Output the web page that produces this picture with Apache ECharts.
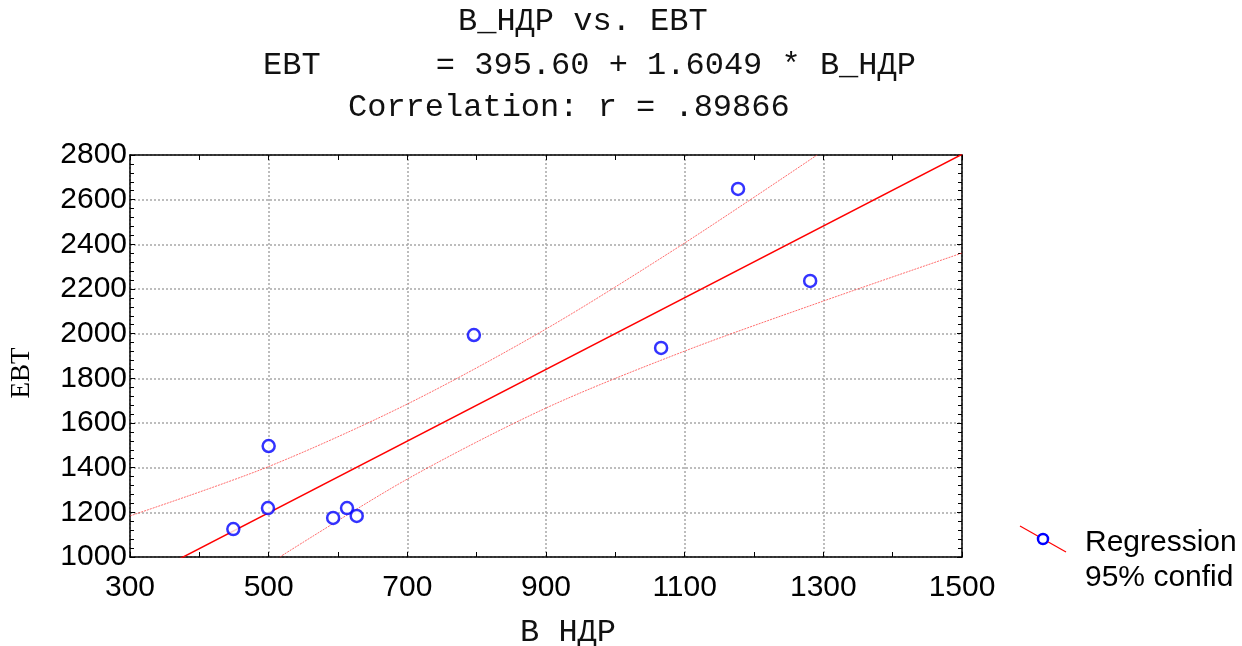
<!DOCTYPE html>
<html><head><meta charset="utf-8">
<script src="https://cdn.jsdelivr.net/npm/echarts@6/dist/echarts.min.js"></script>
<style>html,body{margin:0;padding:0;background:#fff}#c{width:1242px;height:646px}</style>
</head><body><div id="c"></div>
<script>
// Observed data points (B_НДР, EBT)
const xVals = [449, 500, 499, 593, 613, 627, 796, 1066, 1177, 1281];
const yVals = [1125, 1497, 1219, 1175, 1219, 1184, 1994, 1936, 2648, 2236];
// Regression line endpoints (EBT = 395.60 + 1.6049 * B_НДР)
const regX = [300, 1500];
const regY = [877, 2803];
// 95% confidence band
const upperX = [300, 500, 700, 900, 1100, 1291];
const upperY = [1184, 1405, 1685, 2021, 2406, 2800];
const lowerX = [516, 700, 900, 1100, 1300, 1500];
const lowerY = [1000, 1349, 1667, 1922, 2146, 2361];
const xTicks = [300, 500, 700, 900, 1100, 1300, 1500];
const yTicks = [1000, 1200, 1400, 1600, 1800, 2000, 2200, 2400, 2600, 2800];
const titleLines = ['В_НДР vs. EBT', 'EBT      = 395.60 + 1.6049 * В_НДР', 'Correlation: r = .89866'];

const zip = (a, b) => a.map((v, i) => [v, b[i]]);
const chart = echarts.init(document.getElementById('c'), null, {renderer: 'canvas'});
const monoFont = '32px "Liberation Mono", "Courier New", monospace';
const sans = '"Liberation Sans", Arial, sans-serif';
const gridLine = {show: true, lineStyle: {color: '#a8a8a8', type: [2, 2], width: 1.5}};
const axisLine = {show: true, onZero: false, lineStyle: {color: '#000', width: 1.5}};
const tick = {show: true, inside: true, length: 5, lineStyle: {color: '#000'}};
chart.setOption({
  animation: false,
  backgroundColor: '#fff',
  grid: {left: 130, right: 280, top: 155, bottom: 89},
  xAxis: [{
    type: 'value', min: xTicks[0], max: xTicks[xTicks.length - 1], interval: 200,
    axisLine: axisLine, axisTick: tick,
    minorTick: {show: true, splitNumber: 2, length: 5, lineStyle: {color: '#000'}},
    axisLabel: {fontFamily: sans, fontSize: 30, color: '#000', margin: 16, formatter: v => String(v)},
    splitLine: gridLine
  }, {
    type: 'value', position: 'top', min: 300, max: 1500, interval: 200,
    axisLine: axisLine, axisTick: tick,
    minorTick: {show: true, splitNumber: 2, length: 5, lineStyle: {color: '#000'}},
    axisLabel: {show: false}, splitLine: {show: false}
  }],
  yAxis: [{
    type: 'value', min: yTicks[0], max: yTicks[yTicks.length - 1], interval: 200,
    axisLine: axisLine, axisTick: tick,
    minorTick: {show: true, splitNumber: 5, length: 4, lineStyle: {color: '#000'}},
    axisLabel: {fontFamily: sans, fontSize: 30, color: '#000', margin: 3, formatter: v => String(v)},
    splitLine: gridLine
  }, {
    type: 'value', position: 'right', min: 1000, max: 2800, interval: 200,
    axisLine: axisLine, axisTick: tick,
    minorTick: {show: true, splitNumber: 5, length: 4, lineStyle: {color: '#000'}},
    axisLabel: {show: false}, splitLine: {show: false}
  }],
  series: [
    {type: 'line', data: zip(upperX, upperY), smooth: 0.3, symbol: 'none', clip: true,
     lineStyle: {color: 'rgba(255,60,60,0.75)', width: 1, type: [2, 1]}, z: 3},
    {type: 'line', data: zip(lowerX, lowerY), smooth: 0.3, symbol: 'none', clip: true,
     lineStyle: {color: 'rgba(255,60,60,0.75)', width: 1, type: [2, 1]}, z: 3},
    {type: 'line', data: zip(regX, regY), symbol: 'none', clip: true,
     lineStyle: {color: '#ff0000', width: 1.5}, z: 4},
    {type: 'scatter', data: zip(xVals, yVals), symbol: 'circle', symbolSize: 12,
     itemStyle: {color: '#fff', borderColor: '#0000ff', borderWidth: 2.5}, z: 5}
  ],
  graphic: [
    {type: 'text', x: 458, y: 22, style: {text: titleLines[0], font: monoFont, fill: '#111', verticalAlign: 'middle'}},
    {type: 'text', x: 263, y: 66, style: {text: titleLines[1], font: monoFont, fill: '#111', verticalAlign: 'middle'}},
    {type: 'text', x: 348, y: 108, style: {text: titleLines[2], font: monoFont, fill: '#111', verticalAlign: 'middle'}},
    {type: 'text', x: 520, y: 633, style: {text: 'В НДР', font: monoFont, fill: '#111', verticalAlign: 'middle'}},
    {type: 'text', x: 22, y: 373, rotation: Math.PI / 2,
     style: {text: 'EBT', font: '27px "Liberation Serif", "Times New Roman", serif', fill: '#000', align: 'center', verticalAlign: 'middle'}},
    {type: 'line', shape: {x1: 1020, y1: 526, x2: 1066, y2: 552}, style: {stroke: '#ff0000', lineWidth: 1.2}},
    {type: 'circle', shape: {cx: 1043, cy: 539, r: 5}, style: {fill: '#fff', stroke: '#0000ff', lineWidth: 2.5}},
    {type: 'text', left: 1085, top: 528, style: {text: 'Regression', font: '30px "Liberation Sans", Arial, sans-serif', fill: '#000'}},
    {type: 'text', left: 1085, top: 563, style: {text: '95% confid', font: '30px "Liberation Sans", Arial, sans-serif', fill: '#000'}}
  ]
});
</script></body></html>
